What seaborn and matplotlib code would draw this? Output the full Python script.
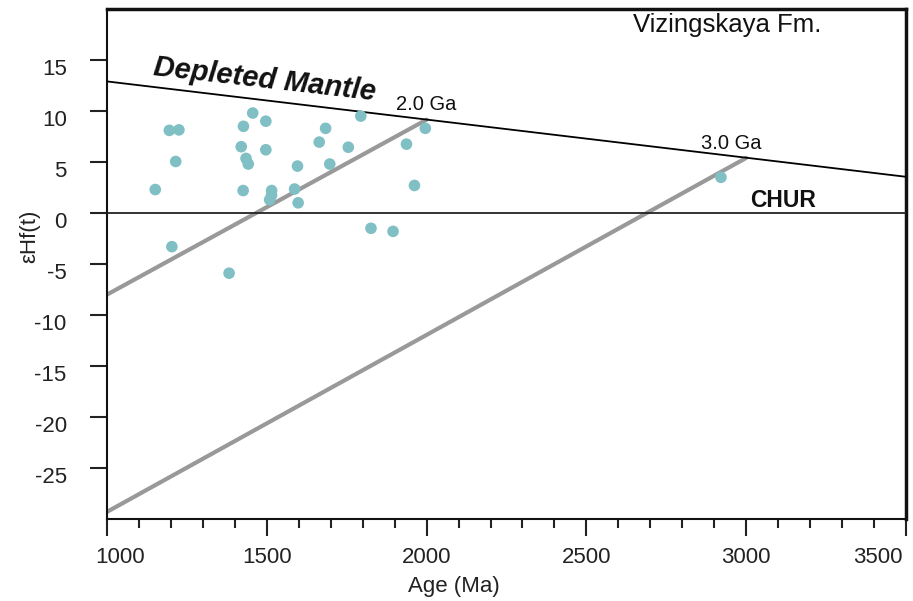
import matplotlib
matplotlib.use("Agg")
import matplotlib.pyplot as plt
import matplotlib.transforms as mtransforms
from matplotlib.ticker import MultipleLocator
import seaborn as sns
import pandas as pd

# Data
ages = [1151, 1195, 1225, 1215, 1203, 1382, 1427, 1456, 1497, 1420, 1497, 1435,
        1442, 1426, 1515, 1515, 1509, 1596, 1587, 1598, 1664, 1684, 1697, 1755,
        1794, 1826, 1895, 1937, 1962, 1996, 2921]
ehf = [2.3, 8.1, 8.15, 5.05, -3.3, -5.9, 8.5, 9.8, 9.0, 6.5, 6.2, 5.35,
       4.8, 2.2, 2.2, 1.75, 1.3, 4.6, 2.35, 1.0, 6.95, 8.3, 4.8, 6.45,
       9.5, -1.5, -1.8, 6.75, 2.7, 8.3, 3.5]

dm_age = [1000, 3500]
dm_eps = [12.9, 3.55]
chur_age = [1000, 3500]
chur_eps = [0, 0]
ga2_age = [1000, 2000]
ga2_eps = [-8.0, 9.15]
ga3_age = [1000, 3000]
ga3_eps = [-29.3, 5.4]

x_ticks = [1000, 1500, 2000, 2500, 3000, 3500]
y_ticks = [-25, -20, -15, -10, -5, 0, 5, 10, 15]

sns.set_style("white")
plt.rcParams['font.family'] = ['Liberation Sans', 'DejaVu Sans']

fig = plt.figure(figsize=(9.13, 6.01), dpi=100)
ax = fig.add_axes([107/913, 1 - 519/601, 799/913, 510/601])

sns.lineplot(x=ga2_age, y=ga2_eps, ax=ax, color="#999999", lw=3, zorder=2)
sns.lineplot(x=ga3_age, y=ga3_eps, ax=ax, color="#999999", lw=3, zorder=2)
sns.lineplot(x=dm_age, y=dm_eps, ax=ax, color="black", lw=1.3, zorder=3)
sns.lineplot(x=chur_age, y=chur_eps, ax=ax, color="#222222", lw=1.3, zorder=3)

df = pd.DataFrame({"Age": ages, "eHf": ehf})
sns.scatterplot(data=df, x="Age", y="eHf", ax=ax, color="#80c0c5", s=70,
                edgecolor="none", zorder=4)

ax.set_xlim(1000, 3500)
ax.set_ylim(-30, 20)
ax.set_xticks(x_ticks)
ax.set_xticklabels([str(t) for t in x_ticks])
ax.xaxis.set_minor_locator(MultipleLocator(100))
ax.set_yticks(y_ticks)
ax.set_yticklabels([str(t) for t in y_ticks])

ax.tick_params(axis='x', which='major', direction='out', length=12, width=1.5,
               labelsize=16, pad=8, bottom=True, colors='#222222')
ax.tick_params(axis='x', which='minor', direction='out', length=6.5, width=1.5,
               bottom=True, colors='#222222')
ax.tick_params(axis='y', which='major', direction='out', length=12, width=1.5,
               labelsize=16, pad=17, left=True, colors='#222222')
for lab in ax.get_xticklabels() + ax.get_yticklabels():
    lab.set_color('#222222')

offset = mtransforms.ScaledTranslation(0, -7/100, fig.dpi_scale_trans)
for lab in ax.get_yticklabels():
    lab.set_transform(lab.get_transform() + offset)

xlabs = ax.get_xticklabels()
xlabs[0].set_transform(xlabs[0].get_transform() +
                       mtransforms.ScaledTranslation(13/100, 0, fig.dpi_scale_trans))
xlabs[-1].set_transform(xlabs[-1].get_transform() +
                        mtransforms.ScaledTranslation(-28/100, 0, fig.dpi_scale_trans))

for side, w in [("left", 1.5), ("bottom", 1.5), ("top", 2.5), ("right", 2.5)]:
    ax.spines[side].set_visible(True)
    ax.spines[side].set_linewidth(w)
    ax.spines[side].set_color("#111111")

ax.set_xlabel("Age (Ma)", fontsize=16, color='#222222')
ax.xaxis.label.set_va('center')
ax.xaxis.set_label_coords(0.434, -0.133)
ax.set_ylabel("εHf(t)", fontsize=16, color='#222222')
ax.yaxis.set_label_coords(-0.084, 0.555)

ax.text(1494, 13.1, "Depleted Mantle", fontsize=21, fontweight='bold',
        fontstyle='italic', rotation=-6.5, ha='center', va='center',
        color='#111111', rotation_mode='anchor')
ax.text(2000, 10.65, "2.0 Ga", fontsize=14.5, ha='center', va='center', color='#111111')
ax.text(2952, 6.8, "3.0 Ga", fontsize=14.5, ha='center', va='center', color='#111111')
ax.text(3116, 1.2, "CHUR", fontsize=16.5, fontweight='bold', ha='center', va='center',
        color='#111111')
ax.text(2941, 18.4, "Vizingskaya Fm.", fontsize=18.5, ha='center', va='center',
        color='#111111')

fig.savefig("out.png", dpi=100)
